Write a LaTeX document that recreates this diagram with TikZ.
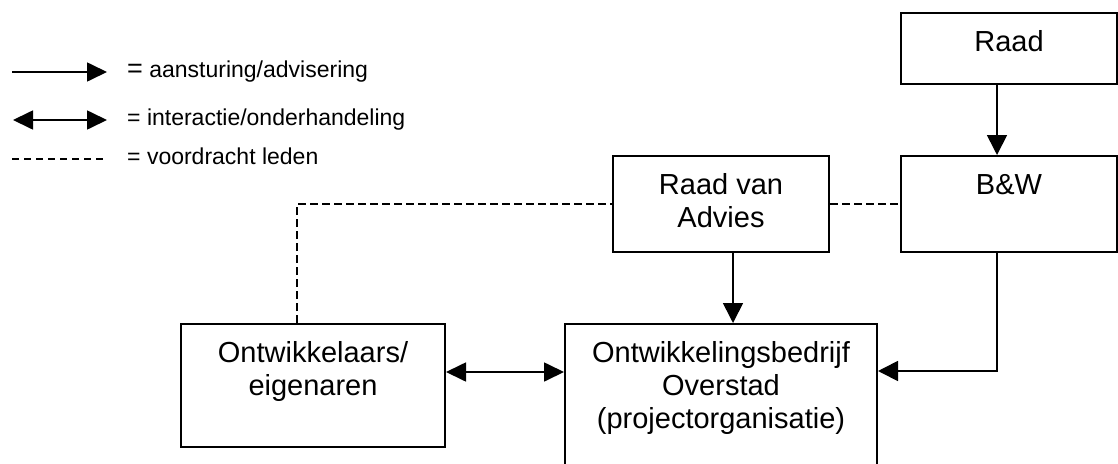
\documentclass[tikz,border=0pt]{standalone}
\usepackage{fontspec}
\setmainfont{Liberation Sans}
\usetikzlibrary{arrows.meta,calc}
\newcommand\boxfont{\fontsize{29}{33}\selectfont}
\newcommand\legfont{\fontsize{23}{27}\selectfont}
\newcommand\bxt[3]{\parbox[c][#2][t]{#1}{\centering\rule{0pt}{38pt}#3\par}}
\tikzset{
  orgbox/.style={draw, line width=2pt, inner sep=0pt, anchor=north west, font=\boxfont},
  arr/.style={line width=1.7pt, -{Triangle[length=20pt,width=20pt]}},
  darr/.style={line width=1.7pt, {Triangle[length=20pt,width=19pt]}-{Triangle[length=20pt,width=19pt]}},
  dsh/.style={line width=1.6pt, dash pattern=on 8pt off 4pt},
  legtext/.style={inner sep=0pt, anchor=base west, font=\legfont},
}
\begin{document}
\begin{tikzpicture}[x=1pt,y=-1pt]
\path[use as bounding box, clip] (0,0) rectangle (1118,463);
\fill[white] (0,0) rectangle (1118,463);
% boxes
\node[orgbox] (raad) at (900,12) {\bxt{216pt}{71pt}{Raad}};
\node[orgbox] (bw) at (900,155) {\bxt{216pt}{96pt}{B\&W}};
\node[orgbox] (rva) at (612,155) {\bxt{216pt}{96pt}{Raad van\\Advies}};
\node[orgbox] (ontw) at (564,323) {\bxt{312pt}{165pt}{Ontwikkelingsbedrijf\\Overstad\\(projectorganisatie)}};
\node[orgbox] (dev) at (180,323) {\bxt{264pt}{123pt}{Ontwikkelaars/\\eigenaren}};
% connectors
\draw[arr] ([xshift=-12pt]raad.south) -- ([xshift=-12pt]bw.north);
\draw[arr] ([xshift=12pt]rva.south) -- ([xshift=12pt]rva.south |- ontw.north);
\draw[arr] ([xshift=-12pt]bw.south) |- ([yshift=-48pt]ontw.north east);
\draw[darr] ([yshift=-49pt]dev.north east) -- ([yshift=-49pt]ontw.north west);
\draw[dsh] ([xshift=-16pt]dev.north) |- (rva.west);
\draw[dsh] (rva.east) -- (bw.west);
% legend
\coordinate (l1a) at (12,72);
\coordinate (l1b) at (107,72);
\coordinate (l2a) at (13,120);
\coordinate (l2b) at (107,120);
\coordinate (l3a) at (12,159);
\coordinate (l3b) at (107,159);
\draw[arr, -{Triangle[length=20pt,width=19pt]}] (l1a) -- (l1b);
\draw[darr] (l2a) -- (l2b);
\draw[line width=1.6pt, dash pattern=on 7pt off 5pt] (l3a) -- (l3b);
\node[legtext] (t1) at (127,77) {{\fontsize{27}{27}\selectfont =} aansturing/advisering};
\node[legtext] (t2) at (127,125) {= interactie/onderhandeling};
\node[legtext] (t3) at (127,164) {= voordracht leden};
\end{tikzpicture}
\end{document}
